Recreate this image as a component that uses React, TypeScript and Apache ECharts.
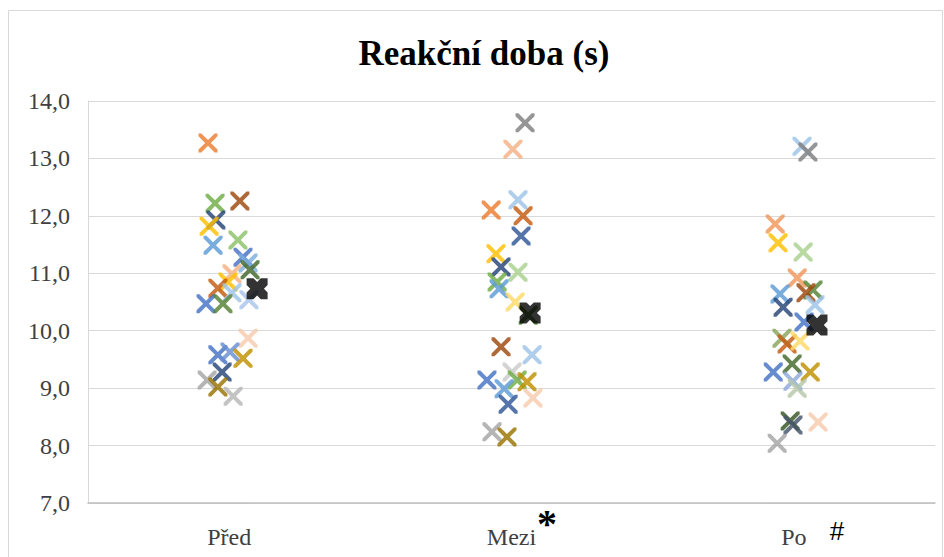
import React, { useEffect, useRef } from "react";
import * as echarts from "echarts";

const categories = ["Před", "Mezi", "Po"];
const yTicks = [7, 8, 9, 10, 11, 12, 13, 14];

// Values (s) per time point, with the horizontal jitter used in the original plot
const predY = [13.27, 12.22, 12.26, 11.93, 11.82, 11.58, 11.49, 11.28, 11.18, 11.06, 10.99, 10.85, 10.74, 10.66, 10.47, 10.47, 10.54, 9.87, 9.58, 9.63, 9.52, 9.28, 9.14, 9.02, 8.86];
const predJitter = [-0.075, -0.05, 0.038, -0.047, -0.071, 0.031, -0.057, 0.049, 0.067, 0.074, 0.01, -0.004, -0.04, 0.01, -0.082, -0.022, 0.07, 0.067, -0.04, 0.003, 0.049, -0.025, -0.078, -0.04, 0.014];

const meziY = [13.62, 13.16, 12.1, 12.28, 12.0, 11.65, 11.34, 11.11, 11.02, 10.85, 10.73, 10.5, 10.27, 9.72, 9.58, 9.14, 9.28, 9.14, 9.11, 8.99, 8.72, 8.83, 8.24, 8.15];
const meziJitter = [0.048, 0.005, -0.072, 0.023, 0.041, 0.034, -0.055, -0.037, 0.023, -0.051, -0.044, 0.013, 0.059, -0.037, 0.073, -0.087, 0.002, 0.02, 0.055, -0.026, -0.012, 0.076, -0.069, -0.016];

const poY = [13.21, 13.11, 11.86, 11.53, 11.37, 10.92, 10.71, 10.66, 10.64, 10.45, 10.41, 10.15, 9.87, 9.77, 9.82, 9.28, 9.42, 9.28, 9.12, 9.0, 8.43, 8.36, 8.41, 8.04];
const poJitter = [0.029, 0.05, -0.066, -0.056, 0.033, 0.012, 0.068, 0.043, -0.049, 0.075, -0.038, 0.036, -0.042, -0.024, 0.022, -0.073, -0.006, 0.058, -0.003, 0.012, -0.013, -0.003, 0.086, -0.059];

const meanY = [10.73, 10.31, 10.1];
const meanJitter = [0.099, 0.066, 0.082];

const predColors = ["#ED7D31", "#70AD47", "#9E480E", "#264478", "#FFC000", "#8CC168", "#5B9BD5", "#4472C4", "#7CAFDD", "#43682B", "#F4B183", "#FFC000", "#C55A11", "#9DC3E6", "#4472C4", "#548235", "#A9C4EB", "#F8CBAD", "#4472C4", "#698ED0", "#BF9000", "#264478", "#A5A5A5", "#997300", "#B7B7B7"];
const meziColors = ["#7F7F7F", "#F4B183", "#ED7D31", "#9DC3E6", "#C55A11", "#2F5597", "#FFC000", "#264478", "#A9D18E", "#70AD47", "#5B9BD5", "#FFD966", "#548235", "#9E480E", "#9DC3E6", "#4472C4", "#C9C9C9", "#70AD47", "#BF9000", "#5B9BD5", "#2F5597", "#F8CBAD", "#A5A5A5", "#997300"];
const poColors = ["#9DC3E6", "#7F7F7F", "#F1975A", "#FFC000", "#A9D18E", "#F1975A", "#548235", "#9E480E", "#5B9BD5", "#9DC3E6", "#264478", "#4472C4", "#8CA35A", "#C55A11", "#FFD966", "#4472C4", "#43682B", "#BF9000", "#8FAADC", "#B4C7A8", "#375623", "#44546A", "#F8CBAD", "#A5A5A5"];

const X_THIN = "path://M0,0 L3,0 L10,7 L17,0 L20,0 L20,3 L13,10 L20,17 L20,20 L17,20 L10,13 L3,20 L0,20 L0,17 L7,10 L0,3 Z";
const X_BOLD = "path://M0,0 L6.5,0 L10,3.5 L13.5,0 L20,0 L20,6.5 L16.5,10 L20,13.5 L20,20 L13.5,20 L10,16.5 L6.5,20 L0,20 L0,13.5 L3.5,10 L0,6.5 Z";

const SERIF = "'Liberation Serif', 'Times New Roman', serif";

function build(ys: number[], jit: number[], colors: string[], idx: number) {
  return ys.map((y, i) => ({
    value: [idx + 0.5 + jit[i], y],
    itemStyle: { color: colors[i] },
  }));
}

export default function App() {
  const ref = useRef<HTMLDivElement>(null);
  useEffect(() => {
    if (!ref.current) return;
    const chart = echarts.init(ref.current, undefined, { renderer: "svg" });
    const seriesPoints = [
      ...build(predY, predJitter, predColors, 0),
      ...build(meziY, meziJitter, meziColors, 1),
      ...build(poY, poJitter, poColors, 2),
    ];
    const means = meanY.map((y, i) => [i + 0.5 + meanJitter[i], y]);
    chart.setOption({
      animation: false,
      backgroundColor: "#ffffff",
      grid: { left: 88, right: 9, top: 101, bottom: 54 },
      xAxis: [
        {
          type: "category",
          data: categories,
          boundaryGap: true,
          axisLine: { show: true, lineStyle: { color: "#BFBFBF", width: 1.5 } },
          axisTick: { show: false },
          axisLabel: { fontFamily: SERIF, fontSize: 24, color: "#404040", margin: 22 },
        },
        { type: "value", min: 0, max: 3, show: false },
      ],
      yAxis: {
        type: "value",
        min: 7,
        max: 14,
        interval: 1,
        axisLine: { show: true, lineStyle: { color: "#D9D9D9" } },
        axisTick: { show: false },
        splitLine: { lineStyle: { color: "#D9D9D9", width: 1 } },
        axisLabel: {
          fontFamily: SERIF,
          fontSize: 24,
          color: "#404040",
          margin: 18,
          formatter: (v: number) => (yTicks.includes(v) ? v.toFixed(1).replace(".", ",") : ""),
        },
      },
      series: [
        {
          type: "scatter",
          xAxisIndex: 1,
          symbol: X_THIN,
          symbolSize: 19,
          itemStyle: { opacity: 0.82 },
          data: seriesPoints,
        },
        {
          type: "scatter",
          xAxisIndex: 1,
          symbol: X_BOLD,
          symbolSize: 21,
          itemStyle: { color: "#000000" },
          data: means,
          z: 5,
        },
      ],
      graphic: [
        {
          type: "rect",
          shape: { x: 8.5, y: 10.5, width: 934, height: 560 },
          style: { fill: "none", stroke: "#D9D9D9", lineWidth: 1 },
          silent: true,
        },
        {
          type: "text",
          x: 484,
          y: 53,
          style: {
            text: "Reakční doba (s)",
            fontFamily: SERIF,
            fontWeight: "bold",
            fontSize: 35,
            fill: "#000000",
            textAlign: "center",
            textVerticalAlign: "middle",
          },
        },
        {
          type: "text",
          x: 547,
          y: 523,
          style: {
            text: "*",
            fontFamily: SERIF,
            fontWeight: "bold",
            fontSize: 40,
            fill: "#000000",
            textAlign: "center",
            textVerticalAlign: "middle",
          },
        },
        {
          type: "text",
          x: 837,
          y: 531,
          style: {
            text: "#",
            fontFamily: "'Liberation Sans', Arial, sans-serif",
            fontSize: 26,
            fill: "#000000",
            textAlign: "center",
            textVerticalAlign: "middle",
          },
        },
      ],
    });
    return () => chart.dispose();
  }, []);
  return (
    <div style={{ position: "fixed", left: 0, top: 0, width: 944, height: 557, background: "#fff" }}>
      <div ref={ref} style={{ width: 944, height: 557 }} />
    </div>
  );
}
